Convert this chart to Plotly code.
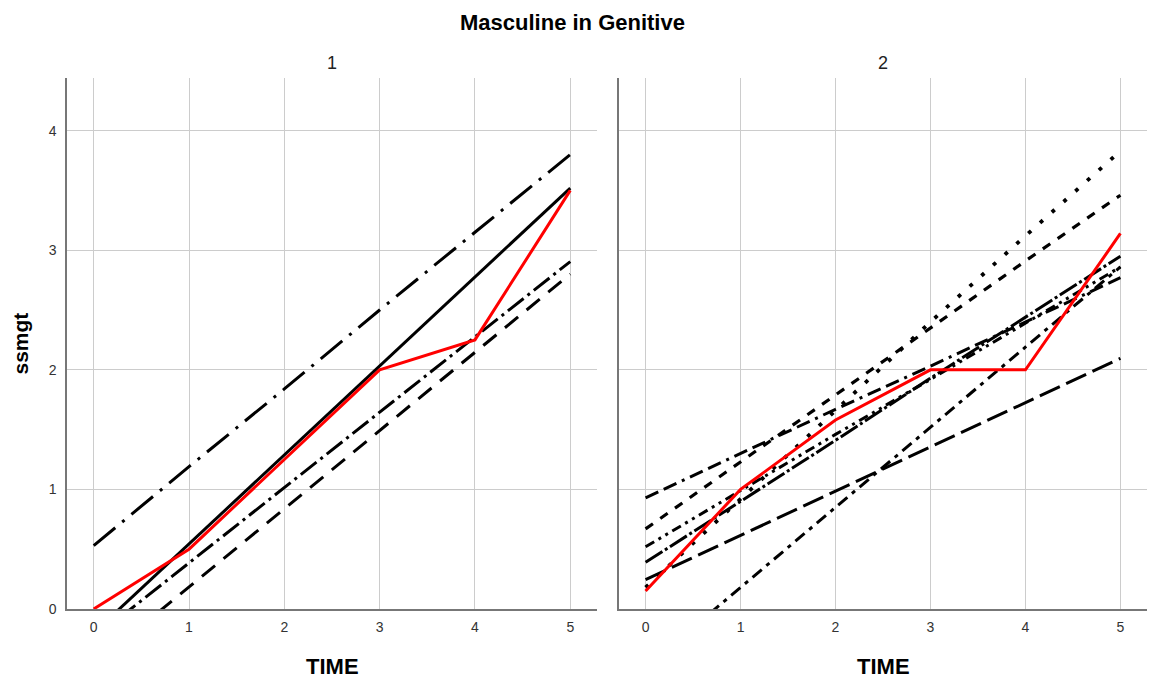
import plotly.graph_objects as go

# ---------------- data ----------------
time = [0, 1, 2, 3, 4, 5]

# Panel 1
p1_red = [0.0, 0.5, 1.25, 2.0, 2.25, 3.5]
p1_solid = [-0.20, 0.545, 1.29, 2.03, 2.78, 3.52]
p1_dashdot_top = [0.53, 1.19, 1.84, 2.50, 3.15, 3.80]
p1_dashdot_mid = [-0.245, 0.385, 1.015, 1.645, 2.275, 2.905]
p1_dashed = [-0.47, 0.185, 0.84, 1.49, 2.145, 2.80]

# Panel 2
p2_red = [0.15, 1.0, 1.58, 2.0, 2.0, 3.14]
p2_dotted = [0.18, 0.92, 1.66, 2.40, 3.12, 3.83]
p2_dashed = [0.67, 1.23, 1.79, 2.35, 2.91, 3.46]
p2_dashdashdot = [0.93, 1.30, 1.67, 2.03, 2.40, 2.77]
p2_longdashdot = [0.39, 0.90, 1.41, 1.93, 2.44, 2.95]
p2_dashdotdot = [0.52, 0.99, 1.46, 1.92, 2.39, 2.86]
p2_longdash = [0.245, 0.615, 0.985, 1.355, 1.725, 2.095]
p2_dashdot = [-0.49, 0.18, 0.85, 1.52, 2.19, 2.86]

panel_labels = ["1", "2"]
x_ticks = [0, 1, 2, 3, 4, 5]
y_ticks = [0, 1, 2, 3, 4]

# ---------------- figure ----------------
fig = go.Figure()

def add(xa, ya, y, color, width, dash):
    fig.add_trace(go.Scatter(x=time, y=y, mode="lines", xaxis=xa, yaxis=ya,
                             line=dict(color=color, width=width, dash=dash),
                             showlegend=False, hoverinfo="skip"))

BLK = "#000000"
RED = "#ff0000"

# panel 1
add("x", "y", p1_dashdot_top, BLK, 3, "28px,9px,3px,9px")
add("x", "y", p1_dashdot_mid, BLK, 3, "20px,5px,3px,5px")
add("x", "y", p1_dashed, BLK, 3, "17px,11px")
add("x", "y", p1_solid, BLK, 3, "solid")
add("x", "y", p1_red, RED, 3, "solid")

# panel 2
add("x2", "y2", p2_longdash, BLK, 3, "22px,7px")
add("x2", "y2", p2_dashdot, BLK, 3, "12px,6px,4px,6px")
add("x2", "y2", p2_dashdashdot, BLK, 3, "14px,6px,14px,6px,3px,6px")
add("x2", "y2", p2_dashdotdot, BLK, 3, "10px,5px,3px,5px,3px,5px")
add("x2", "y2", p2_longdashdot, BLK, 3, "20px,3px,3px,3px")
add("x2", "y2", p2_dashed, BLK, 3.2, "9px,9px")
add("x2", "y2", p2_dotted, BLK, 3.8, "3.8px,12px")
add("x2", "y2", p2_red, RED, 3, "solid")

GRID = "#cccccc"
AXL = "#777777"
FONT = "Liberation Sans, Arial, sans-serif"

xcommon = dict(range=[-0.28, 5.28], tickvals=x_ticks, ticktext=[str(v) for v in x_ticks],
               showgrid=True, gridcolor=GRID, gridwidth=1, zeroline=False,
               showline=True, linecolor=AXL, linewidth=1.5, ticks="",
               ticklabelstandoff=4,
               tickfont=dict(family=FONT, size=14, color="#333333"), fixedrange=True)
ycommon = dict(range=[0, 4.44], tickvals=y_ticks, ticktext=[str(v) for v in y_ticks],
               showgrid=True, gridcolor=GRID, gridwidth=1, zeroline=False,
               showline=True, linecolor=AXL, linewidth=1.5, ticks="",
               ticklabelstandoff=6,
               tickfont=dict(family=FONT, size=14, color="#333333"), fixedrange=True)

fig.update_layout(
    width=1149, height=679,
    margin=dict(l=67, r=2, t=78, b=70),
    paper_bgcolor="white", plot_bgcolor="white",
    xaxis=dict(domain=[0, 0.4907], anchor="y", **xcommon),
    xaxis2=dict(domain=[0.5111, 1.0], anchor="y2", **xcommon),
    yaxis=dict(domain=[0, 1], anchor="x", showticklabels=True, **ycommon),
    yaxis2=dict(domain=[0, 1], anchor="x2", showticklabels=False, **ycommon),
    font=dict(family=FONT, color="#000000"),
)

ann = []
ann.append(dict(text="<b>Masculine in Genitive</b>", x=0.4685, y=1.104, xref="paper", yref="paper",
                showarrow=False, xanchor="center", yanchor="middle",
                font=dict(family=FONT, size=22, color="#000000")))
for lab, cx in zip(panel_labels, [0.2454, 0.7556]):
    ann.append(dict(text=lab, x=cx, y=1.028, xref="paper", yref="paper", showarrow=False,
                    xanchor="center", yanchor="middle",
                    font=dict(family=FONT, size=18, color="#222222")))
    ann.append(dict(text="<b>TIME</b>", x=cx, y=-0.109, xref="paper", yref="paper", showarrow=False,
                    xanchor="center", yanchor="middle",
                    font=dict(family=FONT, size=22, color="#000000")))
ann.append(dict(text="<b>ssmgt</b>", x=-0.0435, y=0.5, xref="paper", yref="paper", showarrow=False,
                xanchor="center", yanchor="middle", textangle=-90,
                font=dict(family=FONT, size=21, color="#000000")))
fig.update_layout(annotations=ann)

fig.write_html("out.html")
